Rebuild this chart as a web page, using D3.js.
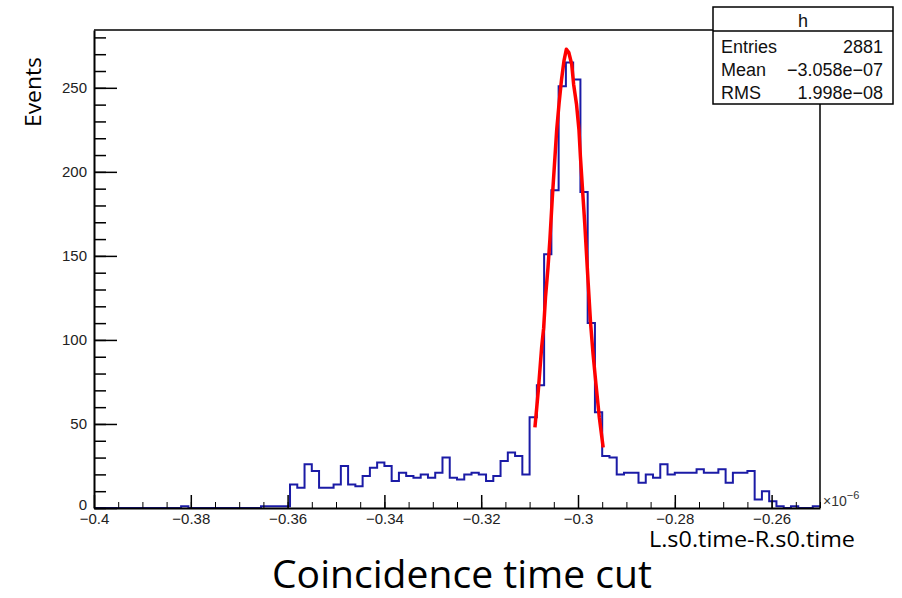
<!DOCTYPE html>
<html>
<head>
<meta charset="utf-8">
<script src="https://cdn.jsdelivr.net/npm/d3@7"></script>
<style>
    body { margin: 0; background: #fff; }
    #chart { width: 902px; height: 598px; }
    .axis text { font-family: 'Liberation Sans', Arial, sans-serif; font-size: 15px; fill: #222; }
    .axis path, .axis line { stroke: #000; }
    .stats text { font-family: 'Liberation Sans', Arial, sans-serif; font-size: 18px; fill: #111; }
    .slide { font-family: 'Open Sans', 'Noto Sans', sans-serif; fill: #000; }
</style>
</head>
<body>
<div id="chart"></div>
<script>
// histogram range (units of 1e-6 s) and contents of the 100 bins
const xMin = -0.4;
const xMax = -0.25;
const binCounts = [
    0, 0, 0, 0, 0, 0, 0, 0, 0, 0, 0, 0, 1, 0, 0, 0, 0, 0, 0, 0,
    0, 0, 0, 1, 1, 1, 1, 14, 12, 26, 22, 12, 12, 14, 25, 14, 13, 19, 24, 27,
    25, 16, 21, 19, 18, 20, 18, 21, 30, 18, 17, 20, 21, 20, 16, 19, 28, 33, 31, 20,
    54, 73, 151, 189, 251, 265, 255, 188, 110, 57, 31, 30, 20, 21, 21, 15, 20, 18, 26, 20,
    21, 21, 21, 23, 21, 21, 23, 15, 21, 21, 22, 5, 10, 4, 1, 0, 1, 0, 0, 1,
];

// gaussian fit curve
const fitX = [
    -0.3089, -0.3082, -0.3075, -0.3071, -0.3067, -0.3062, -0.3058, -0.3053, -0.3044, -0.3039,
    -0.3034, -0.3029, -0.3024, -0.3019, -0.3013, -0.3009, -0.3003, -0.2998, -0.2995, -0.2991,
    -0.2986, -0.2979, -0.2974, -0.2969, -0.2963, -0.2956, -0.2948,
];
const fitY = [
    48, 70, 96, 107, 126, 143, 160, 185, 225, 241,
    255, 266, 273, 271, 264, 252, 240, 225, 209, 191,
    169, 134, 110, 92, 74, 54, 36,
];

// axes
const yMax = 284.4;
const xMajorTicks = [-0.4, -0.38, -0.36, -0.34, -0.32, -0.3, -0.28, -0.26];
const xTickLabels = ['\u22120.4', '\u22120.38', '\u22120.36', '\u22120.34', '\u22120.32', '\u22120.3', '\u22120.28', '\u22120.26'];
const yMajorTicks = [0, 50, 100, 150, 200, 250];
const yTickLabels = ['0', '50', '100', '150', '200', '250'];

// stats box
const statTitle = 'h';
const statNames = ['Entries', 'Mean', 'RMS'];
const statValues = ['2881', '\u22123.058e\u221207', '1.998e\u221208'];

class HistVis {
    constructor(parentElement) {
        this.parentElement = parentElement;
        this.initVis();
    }

    initVis() {
        let vis = this;

        vis.margin = { top: 30, right: 82, bottom: 90, left: 94 };
        vis.width = 902 - vis.margin.left - vis.margin.right;
        vis.height = 598 - vis.margin.top - vis.margin.bottom;

        vis.svg = d3.select('#' + vis.parentElement)
            .append('svg')
            .attr('width', 902)
            .attr('height', 598);

        vis.g = vis.svg.append('g')
            .attr('transform', `translate(${vis.margin.left}, ${vis.margin.top})`);

        vis.x = d3.scaleLinear().domain([xMin, xMax]).range([0, vis.width]);
        vis.y = d3.scaleLinear().domain([0, yMax]).range([vis.height, 0]);

        vis.updateVis();
    }

    updateVis() {
        let vis = this;
        let binWidth = (xMax - xMin) / binCounts.length;

        // histogram outline
        let steps = binCounts.map((c, i) => ({ x: xMin + i * binWidth, y: c }));
        steps.push({ x: xMax, y: binCounts[binCounts.length - 1] });

        let stepLine = d3.line()
            .curve(d3.curveStepAfter)
            .x((d) => vis.x(d.x))
            .y((d) => vis.y(d.y));

        vis.g.append('path')
            .datum(steps)
            .attr('d', stepLine)
            .attr('fill', 'none')
            .attr('stroke', '#1b1ba6')
            .attr('stroke-width', 2);

        // fit
        let fitLine = d3.line()
            .x((d) => vis.x(d[0]))
            .y((d) => vis.y(d[1]));

        vis.g.append('path')
            .datum(fitX.map((v, i) => [v, fitY[i]]))
            .attr('d', fitLine)
            .attr('fill', 'none')
            .attr('stroke', '#ff0000')
            .attr('stroke-width', 3.5)
            .attr('stroke-linejoin', 'round');

        // frame top and right
        vis.g.append('path')
            .attr('d', `M0,0H${vis.width}V${vis.height}`)
            .attr('fill', 'none')
            .attr('stroke', '#000')
            .attr('stroke-width', 1.5);

        // x axis, ticks pointing up into the frame
        let xMinor = d3.range(0, 31).map((i) => xMin + i * 0.005);

        vis.g.append('g')
            .attr('class', 'axis')
            .attr('transform', `translate(0, ${vis.height})`)
            .call(d3.axisBottom(vis.x).tickValues(xMinor).tickSize(-6).tickSizeOuter(0).tickFormat(''))
            .call((g) => g.select('.domain').attr('stroke-width', 2));

        vis.g.append('g')
            .attr('class', 'axis')
            .attr('transform', `translate(0, ${vis.height})`)
            .call(d3.axisBottom(vis.x).tickValues(xMajorTicks).tickSize(-13).tickSizeOuter(0).tickPadding(5)
                .tickFormat((d, i) => xTickLabels[i]))
            .call((g) => g.select('.domain').remove())
            .call((g) => g.selectAll('line').attr('stroke-width', 1.5));

        // y axis, ticks pointing right
        let yMinor = d3.range(0, 29).map((i) => i * 10);

        vis.g.append('g')
            .attr('class', 'axis')
            .call(d3.axisLeft(vis.y).tickValues(yMinor).tickSize(-12).tickSizeOuter(0).tickFormat(''))
            .call((g) => g.select('.domain').attr('stroke-width', 2))
            .call((g) => g.selectAll('line').attr('stroke-width', 1.5));

        vis.g.append('g')
            .attr('class', 'axis')
            .call(d3.axisLeft(vis.y).tickValues(yMajorTicks).tickSize(-23).tickSizeOuter(0).tickPadding(7)
                .tickFormat((d, i) => yTickLabels[i]))
            .call((g) => g.select('.domain').remove())
            .call((g) => g.selectAll('line').attr('stroke-width', 1.5))
            // the zero sits a little higher so it clears -0.4
            .call((g) => g.selectAll('text').filter((d) => d === 0).attr('dy', '0.1em'));

        // exponent label
        let expo = vis.g.append('text')
            .attr('class', 'axis-expo')
            .attr('x', vis.width + 3)
            .attr('y', vis.height - 2)
            .style('font-family', "'Liberation Sans', Arial, sans-serif")
            .style('font-size', '14px')
            .attr('fill', '#333');
        expo.append('tspan').text('\u00d710');
        expo.append('tspan').attr('dy', -7).style('font-size', '11px').text('\u22126');

        // axis titles
        vis.svg.append('text')
            .attr('class', 'slide')
            .attr('x', 855)
            .attr('y', 547)
            .attr('text-anchor', 'end')
            .attr('textLength', 206)
            .attr('lengthAdjust', 'spacingAndGlyphs')
            .style('font-size', '21px')
            .text('L.s0.time-R.s0.time');

        vis.svg.append('text')
            .attr('class', 'slide')
            .attr('transform', 'translate(41, 92) rotate(-90)')
            .attr('text-anchor', 'middle')
            .attr('textLength', 70)
            .attr('lengthAdjust', 'spacingAndGlyphs')
            .style('font-size', '21px')
            .text('Events');

        vis.svg.append('text')
            .attr('class', 'slide')
            .attr('x', 462)
            .attr('y', 588)
            .attr('text-anchor', 'middle')
            .attr('textLength', 380)
            .attr('lengthAdjust', 'spacingAndGlyphs')
            .style('font-size', '38px')
            .text('Coincidence time cut');

        vis.drawStats();
    }

    drawStats() {
        let vis = this;
        let box = { x: 713, y: 7, w: 180, h: 97, head: 24 };

        let s = vis.svg.append('g').attr('class', 'stats');

        s.append('rect')
            .attr('x', box.x).attr('y', box.y)
            .attr('width', box.w).attr('height', box.h)
            .attr('fill', '#fff')
            .attr('stroke', '#000')
            .attr('stroke-width', 1.5);

        s.append('line')
            .attr('x1', box.x).attr('x2', box.x + box.w)
            .attr('y1', box.y + box.head).attr('y2', box.y + box.head)
            .attr('stroke', '#000')
            .attr('stroke-width', 1.5);

        s.append('text')
            .attr('x', box.x + box.w / 2)
            .attr('y', box.y + 20)
            .attr('text-anchor', 'middle')
            .text(statTitle);

        statNames.forEach((n, i) => {
            s.append('text')
                .attr('x', box.x + 8)
                .attr('y', 53 + i * 23)
                .text(n);

            s.append('text')
                .attr('x', box.x + box.w - 10)
                .attr('y', 53 + i * 23)
                .attr('text-anchor', 'end')
                .text(statValues[i]);
        });
    }
}

new HistVis('chart');
</script>
</body>
</html>
